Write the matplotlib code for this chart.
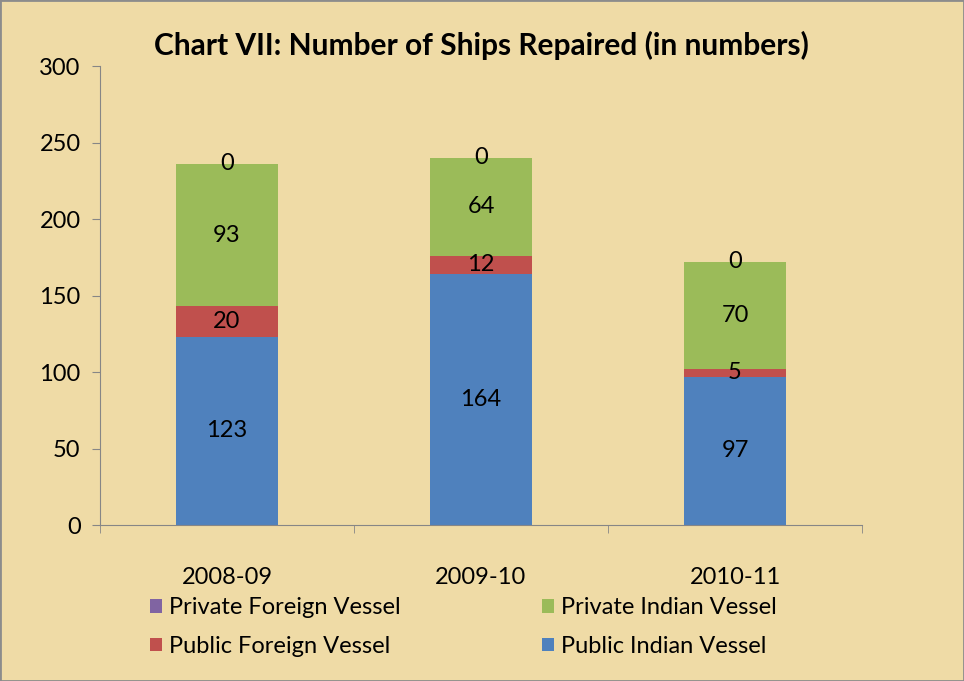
import numpy as np
import matplotlib.pyplot as plt

anos = ["2008-09", "2009-10", "2010-11"]
public_indian = [123, 164, 97]
public_foreign = [20, 12, 5]
private_indian = [93, 64, 70]
private_foreign = [0, 0, 0]

plt.rcParams['font.family'] = ['Lato', 'DejaVu Sans']

fundo = '#EFDBA6'
fig = plt.figure(figsize=(9.64, 6.81), dpi=100, facecolor=fundo)
ax = fig.add_axes([0.1037, 0.229, 0.7905, 0.674])
ax.set_facecolor(fundo)

x = np.arange(len(anos))
largura = 0.4
base = np.zeros(len(anos))
series = [
    (public_indian, '#4F81BD', 'Public Indian Vessel'),
    (public_foreign, '#C0504D', 'Public Foreign Vessel'),
    (private_indian, '#9BBB59', 'Private Indian Vessel'),
    (private_foreign, '#8064A2', 'Private Foreign Vessel'),
]
barras = {}
for valores, cor, nome in series:
    b = ax.bar(x, valores, largura, bottom=base, color=cor, label=nome)
    ax.bar_label(b, labels=[str(v) for v in valores], label_type='center', fontsize=17)
    barras[nome] = b
    base = base + np.array(valores)

ax.set_xlim(-0.5, 2.5)
ax.set_ylim(0, 300)
ax.set_yticks(range(0, 301, 50))
ax.tick_params(axis='y', labelsize=17, color='#868686', length=6, pad=8)
ax.set_xticks(x)
ax.set_xticklabels(anos)
ax.tick_params(axis='x', which='major', length=0, labelsize=17, pad=30)
ax.set_xticks([-0.5, 0.5, 1.5, 2.5], minor=True)
ax.tick_params(axis='x', which='minor', length=6, color='#868686')

for lado in ['top', 'right']:
    ax.spines[lado].set_visible(False)
for lado in ['left', 'bottom']:
    ax.spines[lado].set_color('#868686')

ax.set_title('Chart VII: Number of Ships Repaired (in numbers)', fontsize=21.5,
             fontweight='bold', pad=8)

ordem = ['Private Foreign Vessel', 'Public Foreign Vessel',
         'Private Indian Vessel', 'Public Indian Vessel']
fig.legend([barras[n] for n in ordem], ordem, ncol=2, loc='center',
           bbox_to_anchor=(0.481, 0.079), frameon=False, fontsize=17,
           handlelength=0.5, handleheight=0.5, handletextpad=0.3,
           columnspacing=6.0, labelspacing=0.75)

fig.patches.append(plt.Rectangle((0, 0), 1, 1, transform=fig.transFigure,
                                 fill=False, edgecolor='#8C8C8C', linewidth=2))

fig.savefig('out.png', dpi=100, facecolor=fundo)
